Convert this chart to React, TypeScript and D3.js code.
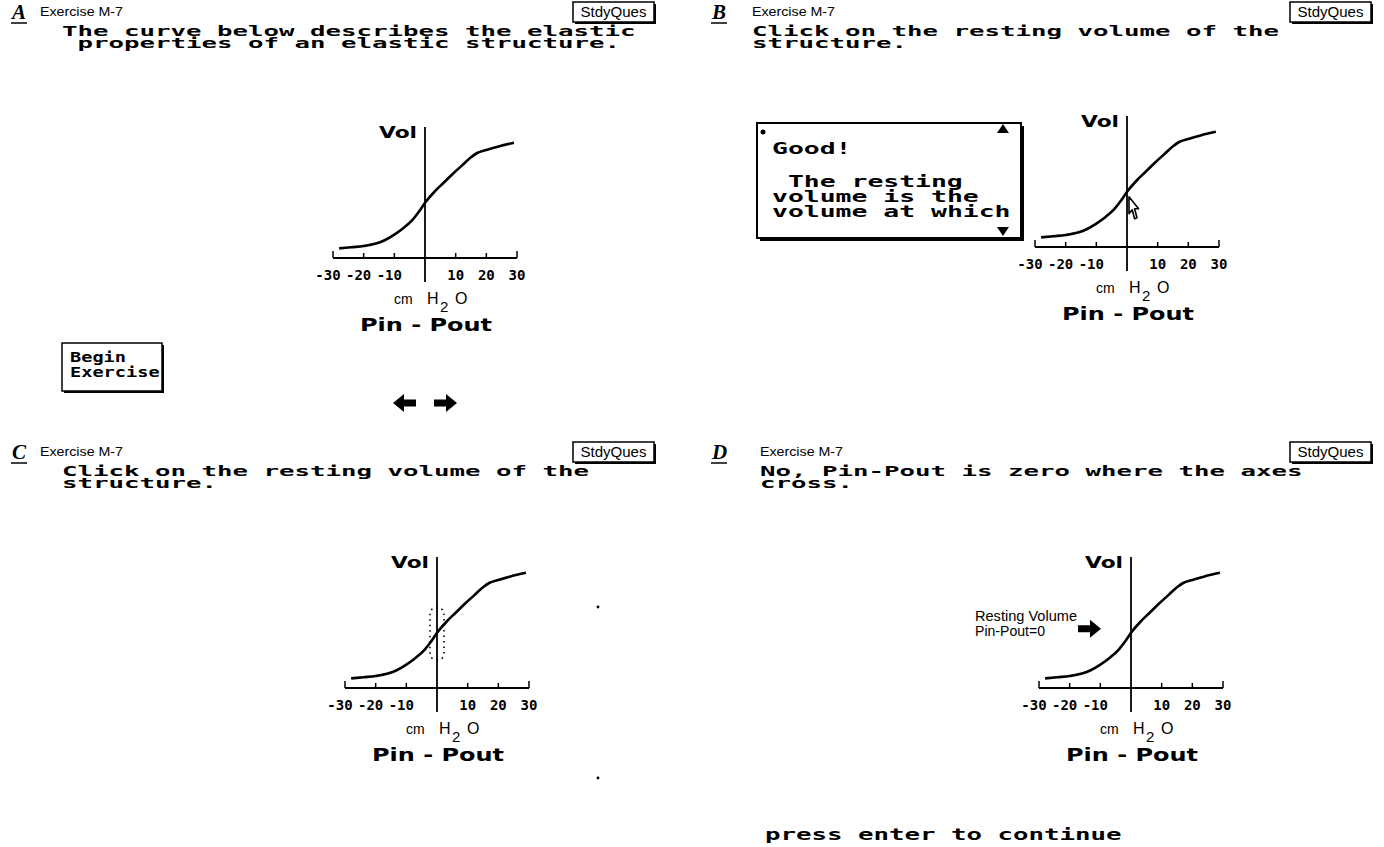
import React from "react";
import * as d3 from "d3";

// Pressure–volume curve of the elastic structure (cm H2O vs. relative volume)
const pressure = [-28, -24, -20, -16, -13, -10, -7, -4, -2, 0, 3, 6, 9, 12, 15, 17, 20, 24, 29];
const volume = [8, 9, 10, 12, 15, 19.5, 25, 32, 38.5, 46, 55, 62.5, 70, 77, 84, 87.5, 90, 93, 96];

const tickValues = [-30, -20, -10, 0, 10, 20, 30];
const tickLabels = ["-30", "-20", "-10", "", "10", "20", "30"];

const panelLetters = ["A", "B", "C", "D"];
const exerciseName = "Exercise M-7";
const studyButton = "StdyQues";
const questionLines = [
  ["The curve below describes the elastic", " properties of an elastic structure."],
  ["Click on the resting volume of the", "structure."],
  ["Click on the resting volume of the", "structure."],
  ["No, Pin-Pout is zero where the axes", "cross."],
];
const feedbackTitle = "Good!";
const feedbackLines = [" The resting", "volume is the", "volume at which"];
const annotationLines = ["Resting Volume", "Pin-Pout=0"];
const beginLines = ["Begin", "Exercise"];
const continueText = "press enter to continue";

const MONO = "'DejaVu Sans Mono', 'Liberation Mono', monospace";
const SANS = "'Liberation Sans', Arial, sans-serif";
const BOLD_SANS = "'DejaVu Sans', 'Liberation Sans', sans-serif";
const SERIF = "'Liberation Serif', 'Times New Roman', serif";

const INK = "#000";

// layout of each screen: header row and chart origin
const headers = [
  { letterX: 12, exX: 40, titleX: 62, boxX: 573, y: 0 },
  { letterX: 712, exX: 752, titleX: 752, boxX: 1290, y: 0 },
  { letterX: 12, exX: 40, titleX: 62, boxX: 573, y: 440 },
  { letterX: 712, exX: 760, titleX: 760, boxX: 1290, y: 440 },
];
const chartOffsets = [
  [0, 0],
  [702, -11],
  [12, 430],
  [706, 430],
];

const TITLE_CW = 15.5;

function MonoLine({ x, y, text, cw, size }: { x: number; y: number; text: string; cw: number; size: number }) {
  const lead = text.length - text.trimStart().length;
  const t = text.trim();
  return (
    <text
      x={x + lead * cw}
      y={y}
      fontFamily={MONO}
      fontWeight="bold"
      fontSize={size}
      textLength={t.length * cw}
      lengthAdjust="spacingAndGlyphs"
      fill={INK}
    >
      {t}
    </text>
  );
}

function Header({ i }: { i: number }) {
  const h = headers[i];
  const y = h.y;
  return (
    <g>
      <text x={h.letterX} y={y + 19} fontFamily={SERIF} fontStyle="italic" fontWeight="bold" fontSize={21} fill={INK}>
        {panelLetters[i]}
      </text>
      <line x1={h.letterX - 1} x2={h.letterX + 15} y1={y + 23} y2={y + 23} stroke={INK} strokeWidth={1.5} />
      <text x={h.exX} y={y + 16} fontFamily={SANS} fontSize={13} textLength={83} lengthAdjust="spacingAndGlyphs" fill={INK}>
        {exerciseName}
      </text>
      <rect x={h.boxX + 2} y={y + 4} width={81} height={20} fill={INK} />
      <rect x={h.boxX} y={y + 2} width={81} height={20} fill="#fff" stroke={INK} strokeWidth={1.5} />
      <text x={h.boxX + 40.5} y={y + 17} textAnchor="middle" fontFamily={SANS} fontSize={14} textLength={66} lengthAdjust="spacingAndGlyphs" fill={INK}>
        {studyButton}
      </text>
      {questionLines[i].map((ln, k) => (
        <MonoLine key={k} x={h.titleX} y={y + 36 + k * 12} text={ln} cw={TITLE_CW} size={14.5} />
      ))}
    </g>
  );
}

function PVChart({ i }: { i: number }) {
  const [ox, oy] = chartOffsets[i];
  const xs = d3.scaleLinear().domain([-30, 30]).range([ox + 333, ox + 517]);
  const ys = d3.scaleLinear().domain([0, 100]).range([oy + 258, oy + 138]);
  const base = ys(0);
  const zeroX = xs(0);
  const pts = pressure.map((p, k) => [p, volume[k]] as [number, number]);
  const line = d3
    .line<[number, number]>()
    .x((d) => xs(d[0]))
    .y((d) => ys(d[1]))
    .curve(d3.curveMonotoneX);
  return (
    <g>
      {/* pressure axis */}
      <line x1={xs(-30)} x2={xs(30)} y1={base} y2={base} stroke={INK} strokeWidth={2} />
      {tickValues.map((t, k) =>
        t === 0 ? null : (
          <line
            key={k}
            x1={xs(t)}
            x2={xs(t)}
            y1={base}
            y2={base - (Math.abs(t) === 30 ? 7 : 5)}
            stroke={INK}
            strokeWidth={1.5}
          />
        )
      )}
      {tickValues.map((t, k) =>
        tickLabels[k] ? (
          <text
            key={"l" + k}
            x={xs(t) - (t < 0 ? 5 : 0)}
            y={base + 22}
            textAnchor="middle"
            fontFamily={MONO}
            fontWeight="bold"
            fontSize={14}
            fill={INK}
          >
            {tickLabels[k]}
          </text>
        ) : null
      )}
      {/* volume axis */}
      <line x1={zeroX} x2={zeroX} y1={oy + 127} y2={base + 24} stroke={INK} strokeWidth={1.8} />
      <text x={zeroX - 8} y={oy + 138} textAnchor="end" fontFamily={BOLD_SANS} fontWeight="bold" fontSize={16} textLength={38} lengthAdjust="spacingAndGlyphs" fill={INK}>
        Vol
      </text>
      {/* P-V curve */}
      <path d={line(pts) || ""} fill="none" stroke={INK} strokeWidth={2.6} strokeLinejoin="round" />
      {/* unit and axis title */}
      <text x={zeroX - 31} y={base + 46} fontFamily={SANS} fontSize={14} fill={INK}>
        cm
      </text>
      <text x={zeroX + 2} y={base + 46} fontFamily={SANS} fontSize={16} fill={INK}>
        H
      </text>
      <text x={zeroX + 15} y={base + 54} fontFamily={SANS} fontSize={15} fill={INK}>
        2
      </text>
      <text x={zeroX + 30} y={base + 46} fontFamily={SANS} fontSize={16} fill={INK}>
        O
      </text>
      <text x={zeroX + 1} y={base + 73} textAnchor="middle" fontFamily={BOLD_SANS} fontWeight="bold" fontSize={17} textLength={132} lengthAdjust="spacingAndGlyphs" fill={INK}>
        Pin - Pout
      </text>
    </g>
  );
}

function Arrow({ cx, cy, dir }: { cx: number; cy: number; dir: number }) {
  // bold block arrow, dir = 1 right, -1 left
  const pts = [
    [-11, -3.5],
    [1, -3.5],
    [1, -9],
    [12, 0],
    [1, 9],
    [1, 3.5],
    [-11, 3.5],
  ]
    .map(([x, y]) => `${cx + dir * x},${cy + y}`)
    .join(" ");
  return <polygon points={pts} fill={INK} />;
}

export default function App() {
  const xsB = d3.scaleLinear().domain([-30, 30]).range([702 + 333, 702 + 517]);
  const ysB = d3.scaleLinear().domain([0, 100]).range([-11 + 258, -11 + 138]);
  const xsC = d3.scaleLinear().domain([-30, 30]).range([12 + 333, 12 + 517]);
  const ysC = d3.scaleLinear().domain([0, 100]).range([430 + 258, 430 + 138]);
  const xsD = d3.scaleLinear().domain([-30, 30]).range([706 + 333, 706 + 517]);
  const ysD = d3.scaleLinear().domain([0, 100]).range([430 + 258, 430 + 138]);
  const restVol = volume[pressure.indexOf(0)];

  // cursor tip sits on the resting volume in screen B
  const tipX = xsB(0) + 2;
  const tipY = ysB(restVol) + 5;
  const cursor = [
    [0, 0],
    [0, 17],
    [4, 13],
    [7, 22],
    [10, 21],
    [7, 12],
    [12, 12],
  ]
    .map(([x, y]) => `${tipX + x * 0.8},${tipY + y}`)
    .join(" ");

  return (
    <svg width={1384} height={847} style={{ display: "block", position: "absolute", left: 0, top: 0 }}>
      <rect width={1384} height={847} fill="#fff" />
      {[0, 1, 2, 3].map((i) => (
        <Header key={i} i={i} />
      ))}
      {[0, 1, 2, 3].map((i) => (
        <PVChart key={"c" + i} i={i} />
      ))}

      {/* screen A: start button and navigation arrows */}
      <rect x={64} y={345} width={100} height={48} fill={INK} />
      <rect x={62} y={343} width={100} height={48} fill="#fff" stroke={INK} strokeWidth={1.5} />
      {beginLines.map((ln, k) => (
        <MonoLine key={k} x={70} y={362 + k * 15} text={ln} cw={11.2} size={14} />
      ))}
      <Arrow cx={405} cy={403} dir={-1} />
      <Arrow cx={445} cy={403} dir={1} />

      {/* screen B: feedback window and pointer */}
      <rect x={760} y={126} width={264} height={115} fill={INK} />
      <rect x={757} y={123} width={264} height={115} fill="#fff" stroke={INK} strokeWidth={2} />
      <circle cx={763} cy={132} r={2.5} fill={INK} />
      <polygon points="997,133 1009,133 1003,124" fill={INK} />
      <polygon points="997,227 1009,227 1003,236" fill={INK} />
      <MonoLine x={772} y={154} text={feedbackTitle} cw={15.9} size={15} />
      {feedbackLines.map((ln, k) => (
        <MonoLine key={k} x={772} y={187 + k * 15} text={ln} cw={15.9} size={15.5} />
      ))}
      <polygon points={cursor} fill="#fff" stroke={INK} strokeWidth={1.6} strokeLinejoin="round" />

      {/* screen C: dotted click target around the resting point */}
      <rect
        x={xsC(0) - 7}
        y={ysC(restVol) - 25}
        width={14}
        height={52}
        rx={6}
        fill="none"
        stroke={INK}
        strokeWidth={1.6}
        strokeDasharray="1.5 4"
      />
      <circle cx={598} cy={607} r={1.4} fill={INK} />
      <circle cx={598} cy={778} r={1.4} fill={INK} />

      {/* screen D: resting volume annotation */}
      {annotationLines.map((ln, k) => (
        <text
          key={k}
          x={975}
          y={621 + k * 15}
          fontFamily={SANS}
          fontSize={14}
          textLength={k === 0 ? 102 : 70}
          lengthAdjust="spacingAndGlyphs"
          fill={INK}
        >
          {ln}
        </text>
      ))}
      <Arrow cx={xsD(0) - 42} cy={ysD(restVol) - 4} dir={1} />

      <MonoLine x={765} y={840} text={continueText} cw={TITLE_CW} size={15} />
    </svg>
  );
}
